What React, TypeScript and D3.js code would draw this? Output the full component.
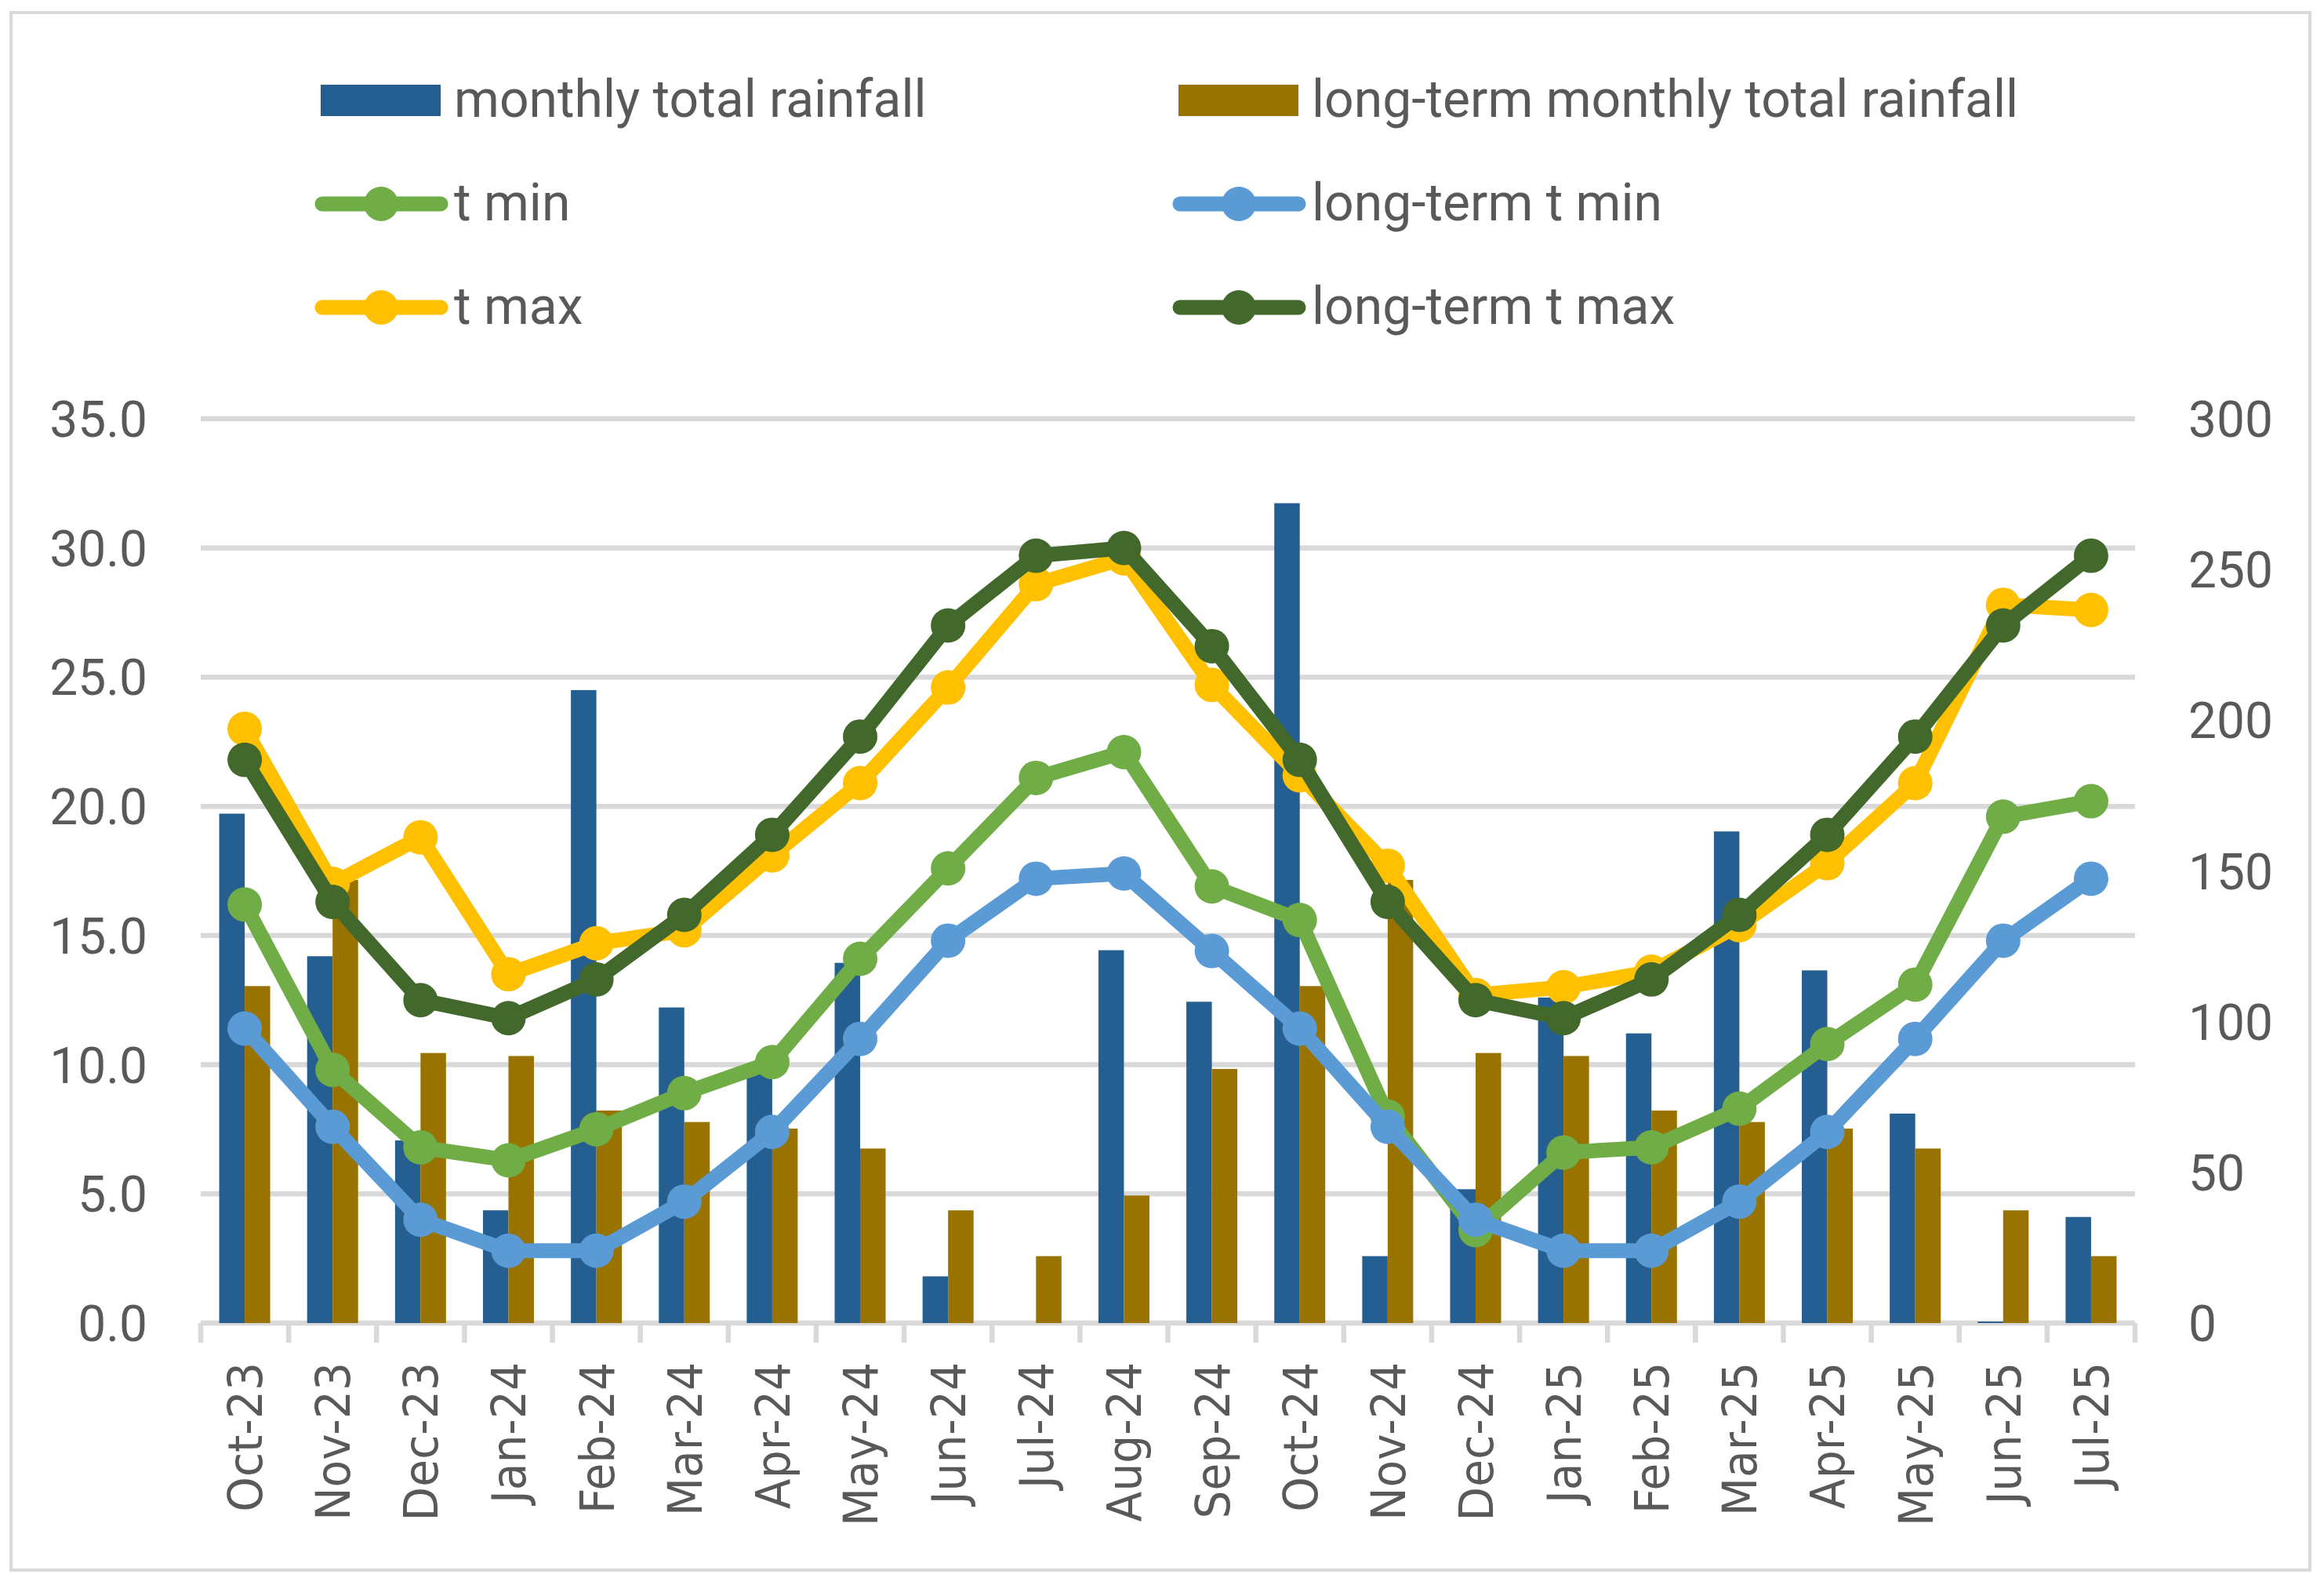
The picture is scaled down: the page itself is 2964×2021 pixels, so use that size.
import React from 'react';
import * as d3 from 'd3';

const months = [
  'Oct-23', 'Nov-23', 'Dec-23', 'Jan-24', 'Feb-24', 'Mar-24', 'Apr-24', 'May-24', 'Jun-24', 'Jul-24', 'Aug-24',
  'Sep-24', 'Oct-24', 'Nov-24', 'Dec-24', 'Jan-25', 'Feb-25', 'Mar-25', 'Apr-25', 'May-25', 'Jun-25', 'Jul-25',
];

// rainfall, mm (right axis)
const rainfall = [169, 121.7, 60.6, 37.4, 210, 104.7, 83, 119.5, 15.5, 0, 123.7, 106.6, 272, 22.2, 44.4, 108, 96.1, 163.1, 117, 69.5, 0.5, 35.2];
const longTermRainfall = [111.8, 147, 89.6, 88.6, 70.5, 66.7, 64.5, 57.9, 37.4, 22.2, 42.3, 84.3, 111.8, 147, 89.6, 88.6, 70.5, 66.7, 64.5, 57.9, 37.4, 22.2];

// temperatures, °C (left axis)
const tMin = [16.2, 9.8, 6.8, 6.3, 7.5, 8.9, 10.1, 14.1, 17.6, 21.1, 22.1, 16.9, 15.6, 8.0, 3.6, 6.6, 6.8, 8.3, 10.8, 13.1, 19.6, 20.2];
const longTermTMin = [11.4, 7.6, 4.0, 2.8, 2.8, 4.7, 7.4, 11.0, 14.8, 17.2, 17.4, 14.4, 11.4, 7.6, 4.0, 2.8, 2.8, 4.7, 7.4, 11.0, 14.8, 17.2];
const tMax = [23.0, 17.0, 18.8, 13.5, 14.7, 15.2, 18.1, 20.9, 24.6, 28.6, 29.6, 24.7, 21.2, 17.7, 12.7, 13.0, 13.6, 15.4, 17.8, 20.9, 27.8, 27.6];
const longTermTMax = [21.8, 16.3, 12.5, 11.8, 13.3, 15.8, 18.9, 22.7, 27.0, 29.7, 30.0, 26.2, 21.8, 16.3, 12.5, 11.8, 13.3, 15.8, 18.9, 22.7, 27.0, 29.7];

const leftTicks = [0, 5, 10, 15, 20, 25, 30, 35];
const rightTicks = [0, 50, 100, 150, 200, 250, 300];

const W = 2964;
const H = 2021;
const margin = { left: 256, right: 2723, top: 534, bottom: 1687 };

const grid = '#d9d9d9';
const textColor = '#595959';
const tickFont = 'Roboto, sans-serif';

const bars = [
  { name: 'monthly total rainfall', values: rainfall, color: '#255e91' },
  { name: 'long-term monthly total rainfall', values: longTermRainfall, color: '#997300' },
];
const lines = [
  { name: 't min', values: tMin, color: '#70ad47' },
  { name: 'long-term t min', values: longTermTMin, color: '#5b9bd5' },
  { name: 't max', values: tMax, color: '#ffc000' },
  { name: 'long-term t max', values: longTermTMax, color: '#43682b' },
];

const App: React.FC = () => {
  const x = d3.scaleBand<string>().domain(months).range([margin.left, margin.right]);
  const yT = d3.scaleLinear().domain([0, 35]).range([margin.bottom, margin.top]);
  const yR = d3.scaleLinear().domain([0, 300]).range([margin.bottom, margin.top]);
  const barW = 32.5;
  const cx = (m: string) => (x(m) as number) + x.bandwidth() / 2;

  const lineGen = (vals: number[]) =>
    d3.line<number>()
      .x((_, i) => cx(months[i]))
      .y(d => yT(d))(vals) as string;

  // legend layout: two columns, three rows
  const legendCols = [402, 1496];
  const legendRows = [128, 260, 392];
  const legendItems = [
    { kind: 'bar', ...bars[0] },
    { kind: 'bar', ...bars[1] },
    { kind: 'line', ...lines[0] },
    { kind: 'line', ...lines[1] },
    { kind: 'line', ...lines[2] },
    { kind: 'line', ...lines[3] },
  ];

  const boundaries = months.map(m => x(m) as number).concat([margin.right]);

  return (
    <div style={{ position: 'fixed', left: 0, top: 0, width: W, height: H, background: '#fff' }}>
      <svg width={W} height={H} style={{ display: 'block' }}>
        <rect x={14} y={16} width={2932} height={1986} fill="#fff" stroke={grid} strokeWidth={4} />

        {/* gridlines */}
        {leftTicks.map(t => (
          <line key={t} x1={margin.left} x2={margin.right} y1={yT(t)} y2={yT(t)} stroke={grid} strokeWidth={6.5} />
        ))}
        {/* category ticks */}
        {boundaries.map((b, i) => (
          <line key={i} x1={b} x2={b} y1={yT(0)} y2={yT(0) + 25} stroke={grid} strokeWidth={6.5} />
        ))}

        {/* bars */}
        {bars.map((s, si) => (
          <g key={s.name} fill={s.color}>
            {s.values.map((v, i) => (
              <rect
                key={i}
                x={cx(months[i]) - barW + si * barW}
                y={yR(v)}
                width={barW}
                height={yR(0) - yR(v)}
              />
            ))}
          </g>
        ))}

        {/* lines */}
        {lines.map(s => (
          <g key={s.name}>
            <path d={lineGen(s.values)} fill="none" stroke={s.color} strokeWidth={19} strokeLinejoin="round" />
            {s.values.map((v, i) => (
              <circle key={i} cx={cx(months[i])} cy={yT(v)} r={22} fill={s.color} />
            ))}
          </g>
        ))}

        {/* left axis labels */}
        {leftTicks.map(t => (
          <text key={t} x={188} y={yT(t)} dy="0.36em" textAnchor="end" fontFamily={tickFont} fontSize={64} fill={textColor}>
            {d3.format('.1f')(t)}
          </text>
        ))}
        {/* right axis labels */}
        {rightTicks.map(t => (
          <text key={t} x={2791} y={yR(t)} dy="0.36em" textAnchor="start" fontFamily={tickFont} fontSize={64} fill={textColor}>
            {t}
          </text>
        ))}
        {/* category labels */}
        {months.map(m => (
          <text
            key={m}
            transform={`translate(${cx(m)},1737) rotate(-90) scale(0.93,1)`}
            dy="0.36em"
            textAnchor="end"
            fontFamily="DejaVu Sans"
            fontSize={61}
            fill={textColor}
          >
            {m}
          </text>
        ))}

        {/* legend */}
        {legendItems.map((it, i) => {
          const lx = legendCols[i % 2];
          const ly = legendRows[Math.floor(i / 2)];
          return (
            <g key={it.name}>
              {it.kind === 'bar' ? (
                <rect x={lx + 7} y={ly - 20} width={153} height={40} fill={it.color} />
              ) : (
                <g>
                  <line x1={lx + 9} x2={lx + 160} y1={ly} y2={ly} stroke={it.color} strokeWidth={19} strokeLinecap="round" />
                  <circle cx={lx + 84} cy={ly} r={22} fill={it.color} />
                </g>
              )}
              <text x={lx + 177} y={ly + 21} fontFamily={tickFont} fontSize={66} fill={textColor}>
                {it.name}
              </text>
            </g>
          );
        })}
      </svg>
    </div>
  );
};

export default App;
